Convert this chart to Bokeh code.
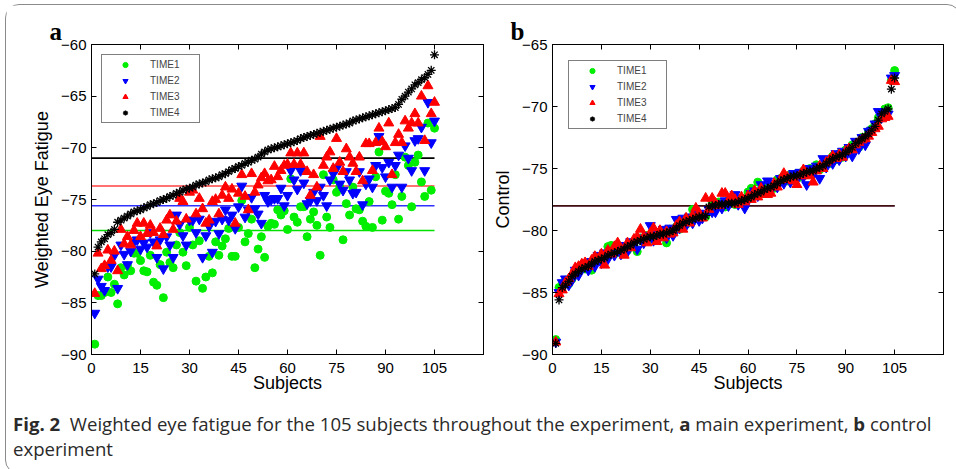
from bokeh.plotting import figure
from bokeh.models import LinearAxis, Div, Range1d
from bokeh.layouts import column, row
from bokeh.embed import file_html
from bokeh.resources import INLINE

# ---------------- data ----------------
subjects = list(range(1, 106))
series_names = ["TIME1", "TIME2", "TIME3", "TIME4"]
x_ticks = [0, 15, 30, 45, 60, 75, 90, 105]
a_y_ticks = [-90, -85, -80, -75, -70, -65, -60]
b_y_ticks = [-90, -85, -80, -75, -70, -65]

# panel a: main experiment
a_time1 = [-89.0, -84.3, -84.3, -84.0, -82.5, -84.0, -83.2, -85.1, -81.6, -82.3, -81.4, -81.9, -80.2, -80.2, -80.9,
           -81.9, -82.0, -80.4, -83.0, -83.3, -81.3, -84.5, -80.1, -81.1, -81.6, -79.4, -78.2, -80.1, -81.4, -77.7,
           -79.4, -82.9, -79.0, -83.6, -82.5, -80.5, -82.1, -79.1, -80.4, -79.5, -78.8, -77.8, -80.5, -80.5, -77.7,
           -75.1, -79.1, -78.3, -76.9, -81.6, -79.8, -78.6, -80.6, -77.6, -77.3, -77.4, -76.0, -76.5, -76.1, -77.9,
           -73.0, -76.7, -77.2, -75.7, -75.7, -78.6, -76.9, -76.2, -77.5, -80.4, -72.6, -76.7, -77.7, -73.1, -74.3,
           -73.8, -78.9, -75.4, -76.5, -73.8, -75.9, -76.0, -77.1, -77.6, -75.2, -77.7, -72.8, -70.4, -77.0, -74.2,
           -74.4, -75.5, -72.6, -76.9, -74.7, -70.9, -71.7, -75.7, -71.4, -70.7, -73.3, -74.7, -67.6, -74.1, -68.1]
a_time2 = [-86.0, -82.7, -83.4, -83.8, -81.5, -81.5, -80.4, -83.6, -79.4, -80.3, -81.3, -80.0, -79.1, -78.9, -79.8,
           -79.2, -79.6, -78.2, -79.1, -80.6, -78.9, -81.7, -78.6, -79.4, -80.6, -76.5, -77.4, -78.5, -79.4, -77.0,
           -77.0, -78.2, -76.9, -80.6, -78.5, -77.6, -80.1, -77.1, -78.3, -76.9, -76.0, -77.0, -76.5, -77.8, -75.7,
           -73.7, -76.7, -76.0, -74.8, -75.9, -76.4, -77.3, -74.6, -75.2, -75.0, -74.9, -74.9, -73.9, -75.6, -74.6,
           -72.2, -73.1, -74.0, -72.2, -73.4, -75.4, -75.1, -74.3, -75.1, -73.8, -74.6, -75.6, -73.1, -72.5, -72.0,
           -73.5, -74.1, -72.3, -73.1, -74.4, -74.3, -72.3, -75.5, -73.5, -73.0, -73.8, -71.7, -68.9, -71.9, -72.8,
           -71.4, -73.8, -71.7, -70.7, -73.8, -69.8, -71.0, -72.2, -69.3, -69.1, -68.0, -72.2, -65.6, -69.5, -67.4]
a_time3 = [-84.1, -80.2, -81.7, -81.4, -79.9, -80.9, -80.0, -81.9, -77.9, -79.3, -78.6, -79.4, -78.0, -77.3, -78.6,
           -77.3, -78.3, -77.5, -78.2, -79.5, -77.8, -78.4, -77.0, -76.5, -77.9, -77.1, -74.9, -75.2, -76.9, -74.3,
           -74.1, -76.4, -74.9, -75.9, -77.3, -77.0, -75.2, -75.0, -76.4, -74.6, -73.8, -74.9, -74.0, -77.3, -74.4,
           -72.6, -74.7, -76.0, -72.5, -74.3, -73.6, -72.9, -72.5, -73.2, -73.1, -71.8, -72.8, -72.2, -71.7, -71.6,
           -70.5, -71.6, -70.5, -71.6, -70.5, -72.3, -74.6, -72.6, -73.8, -68.9, -71.7, -70.9, -70.4, -72.0, -69.1,
           -71.4, -72.3, -70.1, -70.9, -71.5, -72.3, -70.9, -73.2, -69.6, -69.6, -72.2, -69.5, -68.1, -69.4, -69.9,
           -67.6, -72.6, -69.5, -68.7, -69.5, -67.4, -68.1, -67.6, -66.7, -67.6, -65.0, -69.3, -64.0, -66.7, -65.6]
a_time4 = [-82.2, -79.6, -79.1, -78.8, -78.4, -78.2, -77.9, -77.2, -77.0, -76.8, -76.6, -76.4, -76.2, -76.1, -76.0,
           -75.8, -75.7, -75.5, -75.4, -75.3, -75.1, -75.0, -74.9, -74.7, -74.6, -74.4, -74.3, -74.1, -74.0, -73.9,
           -73.8, -73.6, -73.5, -73.4, -73.3, -73.1, -73.0, -72.9, -72.8, -72.6, -72.5, -72.3, -72.1, -72.0, -71.8,
           -71.7, -71.5, -71.4, -71.2, -71.1, -70.9, -70.6, -70.4, -70.2, -70.1, -70.0, -69.9, -69.8, -69.7, -69.6,
           -69.5, -69.4, -69.3, -69.1, -69.0, -68.9, -68.8, -68.7, -68.6, -68.5, -68.4, -68.3, -68.2, -68.1, -68.0,
           -67.9, -67.8, -67.7, -67.6, -67.4, -67.3, -67.2, -67.1, -67.0, -66.9, -66.8, -66.7, -66.6, -66.5, -66.4,
           -66.3, -66.2, -66.1, -65.8, -65.3, -65.0, -64.6, -64.3, -63.9, -63.7, -63.4, -63.2, -62.9, -62.5, -61.0]
a_means = [-78.0, -75.6, -73.7, -71.0]

# panel b: control experiment
b_time1 = [-88.8, -84.6, -84.3, -84.0, -84.3, -83.9, -83.4, -83.0, -82.8, -83.1, -82.6, -83.2, -82.3, -82.2, -82.5,
           -82.0, -81.3, -81.2, -81.9, -81.5, -81.8, -81.4, -81.6, -81.0, -81.2, -81.7, -80.6, -80.9, -80.4, -80.7,
           -80.2, -80.6, -80.1, -80.4, -81.0, -79.9, -80.2, -79.7, -79.9, -79.3, -79.5, -79.0, -78.3, -78.9, -79.1,
           -78.7, -78.9, -78.5, -77.8, -78.2, -77.7, -78.0, -78.1, -77.6, -77.5, -77.9, -77.8, -77.4, -77.6, -76.9,
           -76.6, -77.2, -76.1, -76.8, -76.9, -76.4, -76.3, -76.6, -75.9, -75.8, -75.7, -76.0, -75.5, -75.8, -75.4,
           -75.7, -75.2, -75.5, -75.0, -75.4, -74.7, -75.1, -74.9, -74.5, -74.6, -74.0, -74.3, -73.8, -74.1, -73.5,
           -73.6, -73.1, -73.2, -73.3, -72.5, -72.6, -72.0, -71.8, -71.4, -70.9, -70.5, -70.2, -70.1, -67.9, -67.1]
b_time2 = [-89.0, -85.0, -84.2, -83.9, -84.4, -84.0, -83.2, -83.6, -83.0, -82.8, -83.2, -82.5, -82.9, -82.0, -82.6,
           -81.8, -82.3, -81.6, -82.0, -81.4, -81.9, -81.2, -81.7, -80.9, -81.1, -81.5, -80.6, -81.0, -80.4, -79.6,
           -80.8, -80.1, -80.5, -79.9, -80.6, -79.8, -80.4, -79.1, -79.8, -79.0, -79.6, -78.9, -79.4, -78.7, -79.2,
           -79.0, -78.6, -78.3, -78.5, -78.5, -77.8, -78.2, -77.6, -78.0, -77.5, -77.1, -77.9, -77.4, -78.2, -77.6,
           -77.0, -76.8, -77.2, -76.3, -76.9, -76.0, -76.8, -76.2, -76.5, -75.8, -76.2, -75.6, -76.1, -75.4, -75.9,
           -75.3, -75.7, -76.3, -75.0, -75.5, -74.8, -75.8, -74.2, -74.9, -74.3, -74.6, -73.8, -74.3, -73.6, -74.0,
           -73.3, -74.0, -72.8, -73.4, -72.5, -73.1, -72.0, -71.9, -71.4, -70.4, -70.9, -70.5, -70.6, -67.7, -67.5]
b_time3 = [-89.0, -85.1, -84.8, -84.2, -83.9, -83.5, -83.0, -82.9, -82.7, -82.6, -82.9, -82.4, -82.1, -82.3, -81.9,
           -82.8, -81.6, -81.9, -81.3, -81.0, -81.5, -82.0, -81.0, -81.4, -80.7, -80.5, -79.9, -80.5, -81.0, -80.2,
           -79.8, -80.9, -80.0, -80.6, -80.1, -80.3, -80.2, -79.6, -79.3, -79.9, -79.0, -79.4, -78.8, -78.2, -78.6,
           -79.0, -77.4, -78.3, -77.4, -77.8, -78.0, -77.0, -77.0, -77.6, -77.2, -77.5, -77.9, -77.3, -77.7, -77.2,
           -77.5, -76.8, -77.3, -76.6, -77.1, -77.1, -77.0, -76.2, -76.5, -75.9, -75.4, -75.7, -75.9, -76.0, -76.3,
           -75.6, -75.1, -75.4, -75.6, -76.1, -75.2, -74.8, -75.0, -74.5, -74.3, -74.0, -74.2, -73.9, -74.1, -73.6,
           -73.4, -73.5, -73.1, -72.9, -72.7, -72.6, -72.4, -72.1, -71.8, -71.6, -71.0, -70.9, -70.8, -67.9, -68.0]
b_time4 = [-89.1, -85.6, -84.6, -84.4, -84.1, -83.7, -83.5, -83.3, -83.1, -83.0, -82.9, -82.7, -82.5, -82.4, -82.3,
           -82.2, -82.0, -81.9, -81.8, -81.7, -81.6, -81.5, -81.3, -81.2, -81.0, -80.9, -80.8, -80.7, -80.6, -80.5,
           -80.5, -80.4, -80.3, -80.3, -80.2, -80.1, -80.0, -79.8, -79.6, -79.4, -79.3, -79.2, -79.1, -79.0, -78.9,
           -78.9, -78.8, -78.1, -78.0, -78.0, -77.9, -77.9, -77.9, -77.8, -77.8, -77.8, -77.7, -77.6, -77.5, -77.4,
           -77.3, -77.1, -77.0, -76.9, -76.7, -76.6, -76.5, -76.4, -76.2, -76.0, -75.9, -75.8, -75.7, -75.6, -75.6,
           -75.5, -75.4, -75.3, -75.2, -75.2, -75.0, -74.9, -74.8, -74.6, -74.4, -74.2, -74.1, -74.0, -73.9, -73.7,
           -73.5, -73.3, -73.0, -72.8, -72.6, -72.4, -72.2, -71.9, -71.6, -71.1, -70.6, -70.4, -70.2, -68.6, -67.7]
b_means = [-78.0, -78.0, -78.0, -78.0]

# ---------------- styling ----------------
colors = ["#00ee00", "#0000ff", "#ff0000", "#000000"]
line_colors = ["#00e000", "#3030ff", "#ff4040", "#000000"]
markers = ["circle", "inverted_triangle", "triangle", "asterisk"]
sizes = [8, 10, 10, 9]
widths = [1, 1, 1, 1.3]
TICK_FONT = "Liberation Sans"


def style_axis(ax, ticks, show_labels=True, standoff=5):
    ax.ticker = ticks
    ax.major_tick_in = 5
    ax.major_tick_out = 0
    ax.minor_tick_line_color = None
    ax.axis_line_color = "black"
    ax.major_tick_line_color = "black"
    if show_labels:
        ax.major_label_text_font = TICK_FONT
        ax.major_label_text_font_size = "15px"
        ax.major_label_text_color = "black"
        ax.major_label_standoff = standoff
    else:
        ax.major_label_text_font_size = "0px"
        ax.major_label_text_color = None
        ax.major_label_standoff = 0


def make_panel(data, means, y_ticks, y_label, width, left, legend_margin, letter):
    p = figure(width=width, height=397, x_range=Range1d(0, 120),
               y_range=Range1d(y_ticks[0], y_ticks[-1]),
               output_backend="svg", toolbar_location=None,
               min_border_left=left, min_border_right=7,
               min_border_top=39, min_border_bottom=48)
    p.grid.visible = False
    p.outline_line_color = "black"
    p.background_fill_color = "white"
    p.border_fill_color = "white"

    p.title.text = letter
    p.title.text_font = "Liberation Serif"
    p.title.text_font_style = "bold"
    p.title.text_font_size = "25px"
    p.title.text_color = "black"
    p.title.align = "left"
    p.title.offset = -42
    p.title.standoff = 0

    n = len(subjects)
    mean_x = [0, n]
    for i in range(4):
        alpha = 0.75 if (i == 3 and len(set(means)) == 1) else 1.0
        p.line(mean_x, [means[i], means[i]], line_color=line_colors[i],
               line_width=1.6, line_alpha=alpha)

    for i in range(4):
        p.scatter(subjects, data[i], marker=markers[i], size=sizes[i],
                  fill_color=colors[i], line_color=colors[i], line_width=widths[i],
                  legend_label=series_names[i])

    style_axis(p.xaxis[0], x_ticks, standoff=8)
    style_axis(p.yaxis[0], y_ticks, standoff=5)
    p.xaxis.axis_label = "Subjects"
    p.yaxis.axis_label = y_label
    for ax in (p.xaxis[0], p.yaxis[0]):
        ax.axis_label_text_font = TICK_FONT
        ax.axis_label_text_font_size = "18px"
        ax.axis_label_text_font_style = "normal"
        ax.axis_label_text_color = "black"
    p.xaxis[0].axis_label_standoff = -3
    p.yaxis[0].axis_label_standoff = 6

    top = LinearAxis()
    style_axis(top, x_ticks, show_labels=False)
    p.add_layout(top, "above")
    right = LinearAxis()
    style_axis(right, y_ticks, show_labels=False)
    p.add_layout(right, "right")

    lg = p.legend[0]
    lg.location = "top_left"
    lg.margin = legend_margin
    lg.padding = 3
    lg.spacing = 3
    lg.glyph_width = 40
    lg.glyph_height = 13
    lg.label_height = 13
    lg.label_width = 46
    lg.label_standoff = 5
    lg.label_text_font = TICK_FONT
    lg.label_text_font_size = "10px"
    lg.border_line_color = "black"
    lg.border_line_width = 1
    lg.background_fill_color = "white"
    lg.background_fill_alpha = 1.0
    return p


pa = make_panel([a_time1, a_time2, a_time3, a_time4], a_means, a_y_ticks,
                "Weighted Eye Fatigue", 484, 85, 10, "a")
pb = make_panel([b_time1, b_time2, b_time3, b_time4], b_means, b_y_ticks,
                "Control", 460, 61, 16, "b")

caption = Div(
    text=('<div style="font-family:\'Open Sans\';font-size:18.6px;color:#2a2a2a;'
          'line-height:25px;padding:4px 0 0 2px;white-space:nowrap;">'
          '<b>Fig. 2</b>&nbsp; Weighted eye fatigue for the 105 subjects throughout the experiment, '
          '<b>a</b> main experiment, <b>b</b> control<br>experiment</div>'),
    width=944, height=61)

layout = column(row(pa, pb), caption,
                styles={"border": "1px solid #8a8a8a", "border-radius": "14px",
                        "background-color": "white"},
                margin=(4, 0, 0, 5))

open("out.html", "w").write(file_html(layout, INLINE))
